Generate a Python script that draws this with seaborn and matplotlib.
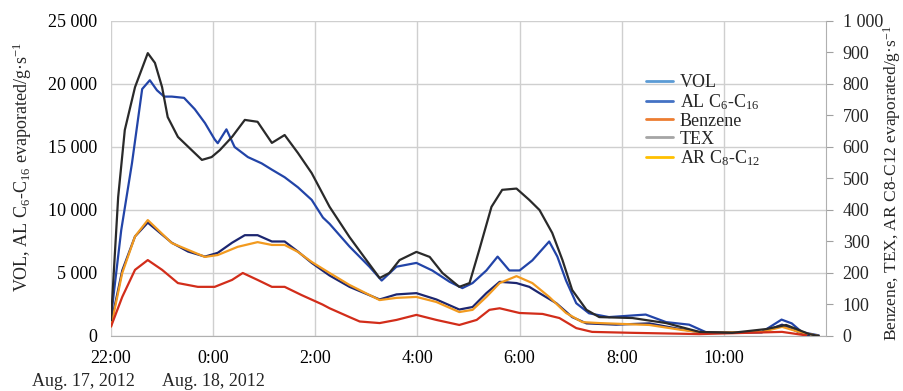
import pandas as pd
import matplotlib
matplotlib.use('Agg')
import matplotlib.pyplot as plt
from matplotlib.lines import Line2D
from matplotlib.ticker import FuncFormatter, MultipleLocator
import seaborn as sns

# Horas desde 22:00 (Aug. 17, 2012) e valores lidos do gráfico
# eixo esquerdo: VOL, AL C6-C16 ; eixo direito: Benzene, TEX, AR C8-C12
vol_h = [0, 0.2, 0.41, 0.61, 0.76, 0.9, 1.04, 1.19, 1.43, 1.64, 1.84, 2.03, 2.09, 2.26, 2.42, 2.68,
         2.95, 3.15, 3.40, 3.66, 3.93, 4.15, 4.28, 4.67, 5.06, 5.30, 5.59, 5.98, 6.29, 6.63, 6.88,
         7.08, 7.35, 7.57, 7.80, 8.00, 8.25, 8.58, 8.74, 8.91, 9.11, 9.36, 9.75, 10.47, 10.87,
         11.32, 11.65, 12.16, 12.74, 13.13, 13.33, 13.53, 13.86]
vol_v = [1500, 8400, 13700, 19600, 20300, 19500, 19000, 19000, 18900, 18000, 16900, 15600, 15300,
         16400, 15000, 14200, 13700, 13200, 12600, 11800, 10800, 9400, 8900, 7100, 5500, 4400, 5500,
         5800, 5200, 4300, 3800, 4200, 5200, 6300, 5200, 5200, 6000, 7500, 6300, 4400, 2600, 1800,
         1500, 1700, 1100, 900, 300, 250, 300, 1300, 1000, 300, 50]

al_h = [0, 0.22, 0.47, 0.72, 1.19, 1.51, 1.84, 2.09, 2.37, 2.62, 2.87, 3.15, 3.40, 3.66, 3.93, 4.28,
        4.67, 5.26, 5.59, 5.98, 6.37, 6.82, 7.08, 7.35, 7.61, 7.94, 8.19, 8.39, 8.72, 9.03, 9.31,
        9.89, 10.54, 11.07, 11.52, 12.75, 13.14, 13.47, 13.67]
al_v = [1000, 5200, 7900, 9000, 7400, 6700, 6300, 6600, 7400, 8000, 8000, 7500, 7500, 6700, 5800,
        4800, 3900, 2900, 3300, 3400, 2900, 2100, 2300, 3400, 4300, 4200, 3900, 3400, 2600, 1500,
        1000, 900, 1000, 600, 300, 300, 900, 300, 50]

tex_h = [0, 0.14, 0.27, 0.47, 0.72, 0.86, 1.00, 1.11, 1.31, 1.58, 1.78, 1.97, 2.13, 2.37, 2.62, 2.87,
         3.15, 3.40, 3.66, 3.93, 4.28, 4.67, 5.00, 5.26, 5.45, 5.65, 5.98, 6.24, 6.49, 6.82, 7.02,
         7.21, 7.45, 7.66, 7.94, 8.19, 8.39, 8.64, 8.84, 9.03, 9.31, 9.56, 10.21, 10.87, 11.52,
         12.16, 12.83, 13.22, 13.47, 13.67, 13.86]
tex_v = [50, 441, 654, 790, 898, 867, 790, 695, 632, 590, 559, 568, 590, 632, 686, 680, 613, 638,
         581, 517, 410, 314, 241, 184, 200, 241, 267, 251, 200, 156, 168, 273, 410, 464, 468, 432,
         400, 327, 241, 146, 83, 60, 57, 41, 13, 10, 22, 35, 19, 6, 0]

ar_h = [0, 0.22, 0.47, 0.72, 1.19, 1.84, 2.09, 2.48, 2.87, 3.15, 3.40, 3.66, 3.93, 4.28, 4.67, 5.26,
        5.59, 5.98, 6.37, 6.82, 7.08, 7.35, 7.61, 7.94, 8.25, 8.58, 8.91, 9.23, 9.56, 10.54, 11.18,
        11.65, 12.75, 13.14, 13.47, 13.86]
ar_v = [30, 200, 316, 368, 295, 251, 257, 283, 298, 289, 289, 267, 235, 200, 162, 114, 121, 124,
        108, 76, 83, 124, 168, 190, 168, 124, 73, 44, 41, 35, 19, 10, 13, 29, 13, 0]

bz_h = [0, 0.22, 0.47, 0.72, 1.00, 1.31, 1.70, 2.03, 2.37, 2.58, 2.87, 3.15, 3.40, 3.73, 4.14, 4.28,
        4.67, 4.87, 5.26, 5.59, 5.98, 6.37, 6.82, 7.16, 7.41, 7.61, 8.00, 8.45, 8.78, 9.11, 9.42,
        10.21, 11.52, 13.14, 13.61]
bz_v = [30, 124, 210, 241, 210, 168, 156, 156, 178, 200, 178, 156, 156, 130, 100, 88, 60, 46, 41,
        51, 67, 51, 35, 51, 83, 88, 73, 70, 57, 25, 13, 10, 6, 13, 2]

tick_pos = [0, 2, 4, 6, 8, 10, 12]
tick_labels = ['22:00', '0:00', '2:00', '4:00', '6:00', '8:00', '10:00']
date_labels = ['Aug. 17, 2012', 'Aug. 18, 2012']

sns.set_style('whitegrid')
plt.rcParams['font.family'] = ['Liberation Serif', 'DejaVu Serif']
plt.rcParams['mathtext.fontset'] = 'custom'
plt.rcParams['mathtext.rm'] = 'Liberation Serif'
plt.rcParams['mathtext.it'] = 'Liberation Serif:italic'

fig = plt.figure(figsize=(9.04, 3.91), dpi=100)
ax = fig.add_axes([0.1228, 0.1407, 0.7909, 0.8056])
ax2 = ax.twinx()

lw = 1.6
# eixo esquerdo
sns.lineplot(x=vol_h, y=vol_v, ax=ax, color='#2244a8', lw=lw)
sns.lineplot(x=al_h, y=al_v, ax=ax, color='#1c2670', lw=lw)
# eixo direito
sns.lineplot(x=ar_h, y=ar_v, ax=ax2, color='#f29a1f', lw=lw)
sns.lineplot(x=bz_h, y=bz_v, ax=ax2, color='#d22d1a', lw=lw)
sns.lineplot(x=tex_h, y=tex_v, ax=ax2, color='#2a2a2a', lw=lw)

sep = FuncFormatter(lambda v, p: f'{int(v):,}'.replace(',', ' '))

ax.set_xlim(0, 14)
ax.set_ylim(0, 25000)
ax.yaxis.set_major_locator(MultipleLocator(5000))
ax.yaxis.set_major_formatter(sep)
ax.set_xticks(tick_pos)
ax.set_xticklabels(tick_labels)
ax.tick_params(axis='both', length=0, labelsize=13, colors='black', pad=10)
ax.grid(True, color='#cfcfcf', lw=1)
for s in ['left', 'top', 'right']:
    ax.spines[s].set_visible(False)
ax.spines['bottom'].set_color('#b0b0b0')

ax2.set_ylim(0, 1000)
ax2.yaxis.set_major_locator(MultipleLocator(100))
ax2.yaxis.set_major_formatter(sep)
ax2.grid(False)
ax2.tick_params(axis='y', length=5, color='#a0a0a0', direction='out', labelsize=13, pad=7)
for s in ['left', 'top', 'bottom']:
    ax2.spines[s].set_visible(False)
ax2.spines['right'].set_color('#b0b0b0')

ax.set_xlabel('')
ax.set_ylabel('')
ax2.set_ylabel('')
fig.text(22 / 904, 1 - 167 / 391,
         'VOL, AL C$\\mathregular{_6}$-C$\\mathregular{_{16}}$ evaporated/g·s$\\mathregular{^{-1}}$',
         rotation=90, ha='center', va='center', fontsize=13)
fig.text(892 / 904, 1 - 183 / 391,
         'Benzene, TEX, AR C8-C12 evaporated/g·s$\\mathregular{^{-1}}$',
         rotation=90, ha='center', va='center', fontsize=12.5)

# datas sob os rótulos das horas
fig.text(83 / 904, 1 - 382 / 391, date_labels[0], ha='center', va='center', fontsize=13)
fig.text(213 / 904, 1 - 382 / 391, date_labels[1], ha='center', va='center', fontsize=13)

handles = [Line2D([], [], color='#5b9bd5', lw=2),
           Line2D([], [], color='#4472c4', lw=2),
           Line2D([], [], color='#ed7d31', lw=2),
           Line2D([], [], color='#a5a5a5', lw=2),
           Line2D([], [], color='#ffc000', lw=2)]
labels = ['VOL', 'AL C$\\mathregular{_6}$-C$\\mathregular{_{16}}$', 'Benzene', 'TEX',
          'AR C$\\mathregular{_8}$-C$\\mathregular{_{12}}$']
ax2.legend(handles, labels, loc='upper left', bbox_to_anchor=(0.735, 0.86), frameon=False,
           fontsize=13, handlelength=1.5, handletextpad=0.4, labelspacing=0.05, borderpad=0)

plt.savefig('out.png', dpi=100)
